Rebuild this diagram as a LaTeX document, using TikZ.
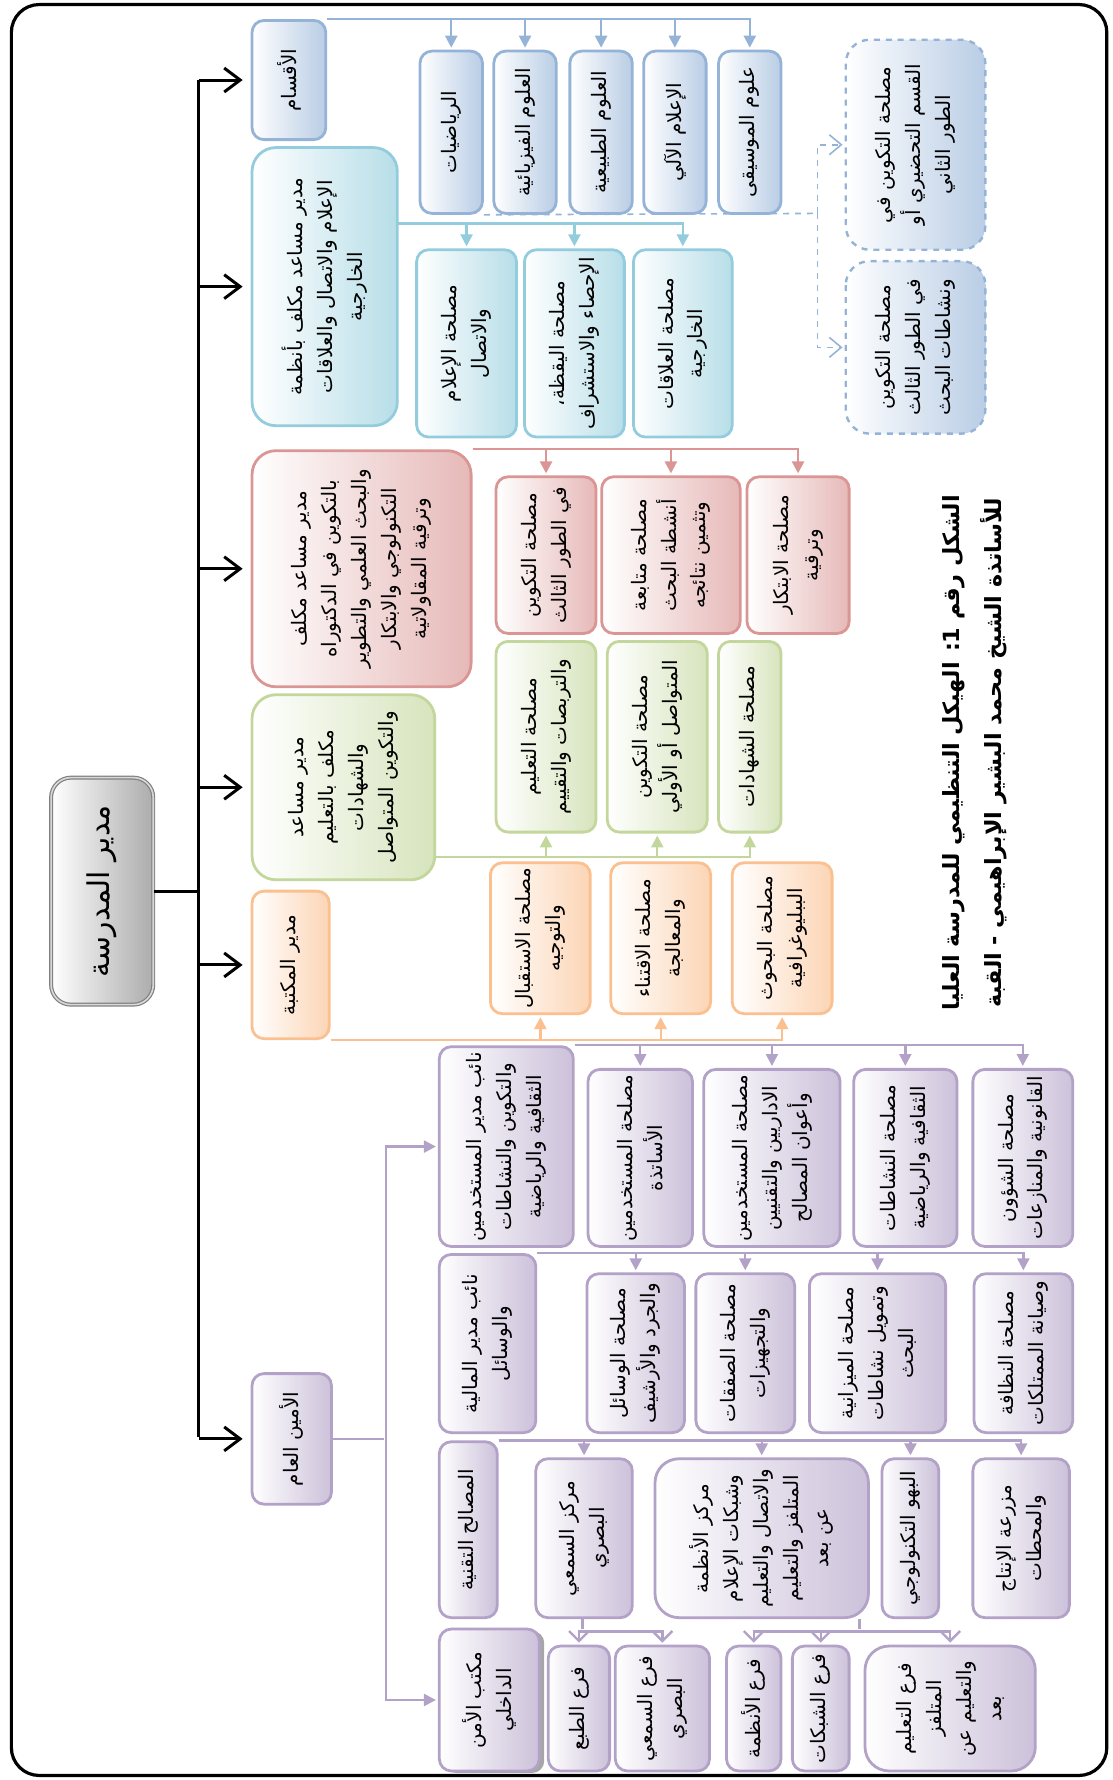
\documentclass[tikz,border=0pt]{standalone}
\usepackage{fontspec}
\newfontfamily\arabicfont[Script=Arabic]{DejaVu Sans}
\TeXXeTstate=1
\usepackage{tikz}
\usetikzlibrary{arrows.meta,shadows}

\definecolor{blueB}{HTML}{95B3D7}   \definecolor{blueF}{HTML}{B9CDE5}
\definecolor{aquaB}{HTML}{93CDDD}   \definecolor{aquaF}{HTML}{B7DEE8}
\definecolor{redB}{HTML}{D99694}    \definecolor{redF}{HTML}{E6B9B8}
\definecolor{greenB}{HTML}{C3D69B}  \definecolor{greenF}{HTML}{D7E4BD}
\definecolor{orangeB}{HTML}{FAC090} \definecolor{orangeF}{HTML}{FCD5B5}
\definecolor{purpleB}{HTML}{B3A2C7} \definecolor{purpleF}{HTML}{CCC1DA}
\newcommand\rl[1]{\beginR #1\endR}

\begin{document}
\begin{tikzpicture}[x=0.02cm,y=-0.02cm,>={Triangle[length=6pt,width=6pt]},shorten >=1pt,
  wh/.style 2 args={minimum height=#1*0.02cm,minimum width=#2*0.02cm},
  box/.style={rotate=90,rounded corners=6pt,align=center,inner sep=2pt,line width=1.4pt,
    font=\arabicfont\fontsize{10}{15}\selectfont},
  big box/.style={box,rounded corners=12pt},
  root node/.style={box,rounded corners=10pt,draw=gray,double=gray!30,double distance=0.8pt,
    line width=0.6pt,left color=white,right color=gray!65,font=\arabicfont\fontsize{15}{18}\selectfont},
  blue node/.style={draw=blueB,left color=white,right color=blueF},
  aqua node/.style={draw=aquaB,left color=white,right color=aquaF},
  red node/.style={draw=redB,left color=white,right color=redF},
  green node/.style={draw=greenB,left color=white,right color=greenF},
  orange node/.style={draw=orangeB,left color=white,right color=orangeF},
  purple node/.style={draw=purpleB,left color=white,right color=purpleF},
  dashed node/.style={draw=blueB,dashed,line width=1.2pt,left color=white,right color=blueF},
  blue line/.style={draw=blueB,line width=1.2pt,->},
  aqua line/.style={draw=aquaB,line width=1.2pt,->},
  red line/.style={draw=redB,line width=1.2pt,->},
  green line/.style={draw=greenB,line width=1.2pt,->},
  orange line/.style={draw=orangeB,line width=1.2pt,->},
  purple line/.style={draw=purpleB,line width=1.2pt,->},
  purple open/.style={draw=purpleB,line width=1.2pt,-{Straight Barb[length=5pt,width=10pt]}},
  dashed link/.style={draw=blueB,dashed,line width=0.8pt,-{Straight Barb[length=6pt,width=10pt]}},
  top line/.style={line width=1.5pt,-{Straight Barb[length=8pt,width=12pt]},shorten >=4pt},
  hv path/.style={to path={-| (\tikztotarget)}},
  vh path/.style={to path={|- (\tikztotarget)}}]

\useasboundingbox (0,0) rectangle (980,1568);
\draw[line width=1.6pt,rounded corners=14pt] (10,4) rectangle (975,1564);

% school director and first level
\node[root node,wh={90}{200}] (root) at (90,785) {\rl{مدير المدرسة}};
\node[box,blue node,wh={65}{105}] (aqsam) at (254.5,70.5) {\rl{الأقسام}};
\node[big box,aqua node,wh={128}{245}] (cyandir) at (286,252.5)
  {\rl{مدير مساعد مكلف بأنظمة}\\\rl{الإعلام والاتصال والعلاقات}\\\rl{الخارجية}};
\node[big box,red node,wh={193}{208}] (reddir) at (318.5,501)
  {\rl{مدير مساعد مكلف}\\\rl{بالتكوين في الدكتوراه}\\\rl{والبحث العلمي والتطوير}\\\rl{التكنولوجي والابتكار}\\\rl{وترقية المقاولاتية}};
\node[big box,green node,wh={161}{163}] (greendir) at (302.5,693.5)
  {\rl{مدير مساعد}\\\rl{مكلف بالتعليم}\\\rl{والشهادات}\\\rl{والتكوين المتواصل}};
\node[box,orange node,wh={68}{130}] (libdir) at (256,850) {\rl{مدير المكتبة}};
\node[box,purple node,wh={70}{115}] (sg) at (257,1267.5) {\rl{الأمين العام}};

\coordinate (bus) at (175,785);
\draw[line width=1.5pt] (root) -- (bus);
\draw[line width=1.5pt] (bus |- aqsam) -- (bus |- sg);
\path (bus |- aqsam) edge [top line] (aqsam);
\path (bus |- cyandir) edge [top line] (cyandir);
\path (bus |- reddir) edge [top line] (reddir);
\path (bus |- greendir) edge [top line] (greendir);
\path (bus |- libdir) edge [top line] (libdir);
\path (bus |- sg) edge [top line] (sg);

% departments
\node[box,blue node,wh={55}{143}] (math) at (397.5,116.5) {\rl{الرياضيات}};
\node[box,blue node,wh={55}{143}] (phys) at (462.5,116.5) {\rl{العلوم الفيزيائية}};
\node[box,blue node,wh={55}{143}] (nat) at (529.5,116.5) {\rl{العلوم الطبيعية}};
\node[box,blue node,wh={55}{143}] (info) at (594.5,116.5) {\rl{الإعلام الآلي}};
\node[box,blue node,wh={55}{143}] (music) at (660.5,116.5) {\rl{علوم الموسيقى}};
\path (aqsam.south east) edge [blue line,hv path] (math) edge [blue line,hv path] (phys)
  edge [blue line,hv path] (nat) edge [blue line,hv path] (info) edge [blue line,hv path] (music);

\node[big box,dashed node,wh={123}{185}] (t1) at (806.5,127.5)
  {\rl{مصلحة التكوين في}\\\rl{القسم التحضيري أو}\\\rl{الطور الثاني}};
\node[big box,dashed node,wh={123}{152}] (t2) at (806.5,306)
  {\rl{مصلحة التكوين}\\\rl{في الطور الثالث}\\\rl{ونشاطات البحث}};
\coordinate (dsplit) at (720,188);
\draw[dashed link,-] (math.south west) -- (dsplit);
\path (dsplit) edge [dashed link,vh path] (t1) edge [dashed link,vh path] (t2);

% information and external relations
\node[box,aqua node,wh={88}{165}] (media) at (411,302.5) {\rl{مصلحة الإعلام}\\\rl{والاتصال}};
\node[box,aqua node,wh={88}{165}] (watch) at (506,302.5) {\rl{مصلحة اليقظة،}\\\rl{الإحصاء والاستشراف}};
\node[box,aqua node,wh={87}{165}] (rel) at (601.5,302.5) {\rl{مصلحة العلاقات}\\\rl{الخارجية}};
\coordinate (aquabus) at (350,197);
\path (aquabus) edge [aqua line,hv path] (media) edge [aqua line,hv path] (watch)
  edge [aqua line,hv path] (rel);

% doctorate and research
\node[box,red node,wh={88}{138}] (phd) at (481,489) {\rl{مصلحة التكوين}\\\rl{في الطور الثالث}};
\node[box,red node,wh={122}{138}] (research) at (591,489) {\rl{مصلحة متابعة}\\\rl{أنشطة البحث}\\\rl{وتثمين نتائجه}};
\node[box,red node,wh={90}{138}] (innov) at (703,489) {\rl{مصلحة الابتكار}\\\rl{وترقية}};
\path (reddir.south east) edge [red line,hv path] (phd) edge [red line,hv path] (research)
  edge [red line,hv path] (innov);

% teaching
\node[box,green node,wh={88}{168}] (teach) at (481,649) {\rl{مصلحة التعليم}\\\rl{والتربصات والتقييم}};
\node[box,green node,wh={88}{168}] (cont) at (579,649) {\rl{مصلحة التكوين}\\\rl{المتواصل أو الأولي}};
\node[box,green node,wh={55}{168}] (cert) at (660.5,649) {\rl{مصلحة الشهادات}};
\coordinate (greenbus) at (383,755);
\path (greenbus) edge [green line,hv path] (teach) edge [green line,hv path] (cont)
  edge [green line,hv path] (cert);

% library
\node[box,orange node,wh={88}{133}] (recep) at (476,826.5) {\rl{مصلحة الاستقبال}\\\rl{والتوجيه}};
\node[box,orange node,wh={88}{133}] (acq) at (582,826.5) {\rl{مصلحة الاقتناء}\\\rl{والمعالجة}};
\node[box,orange node,wh={88}{133}] (biblio) at (689,826.5) {\rl{مصلحة البحوث}\\\rl{الببليوغرافية}};
\path (libdir.south west) edge [orange line,hv path] (recep) edge [orange line,hv path] (acq)
  edge [orange line,hv path] (biblio);

% secretary general
\node[box,purple node,wh={118}{176}] (vp1) at (446,1010)
  {\rl{نائب مدير المستخدمين}\\\rl{والتكوين والنشاطات}\\\rl{الثقافية والرياضية}};
\node[box,purple node,wh={85}{157}] (vp2) at (429.5,1183.5) {\rl{نائب مدير المالية}\\\rl{والوسائل}};
\node[box,purple node,wh={51}{155}] (tech) at (412.5,1347.5) {\rl{المصالح التقنية}};
\node[box,purple node,wh={88}{125},drop shadow={shadow xshift=2.5pt,shadow yshift=-1pt,fill=gray!70,opacity=1}]
  (sec) at (431,1497.5) {\rl{مكتب الأمن}\\\rl{الداخلي}};
\coordinate (pbus) at (340,1267.5);
\draw[purple line,-] (sg) -- (pbus);
\path (pbus) edge [purple line,vh path] (vp1) edge [purple line,vh path] (sec);

\node[box,purple node,wh={92}{156}] (staff1) at (564,1020) {\rl{مصلحة المستخدمين}\\\rl{الأساتذة}};
\node[box,purple node,wh={120}{156}] (staff2) at (680,1020)
  {\rl{مصلحة المستخدمين}\\\rl{الاداريين والتقنيين}\\\rl{وأعوان المصالح}};
\node[box,purple node,wh={91}{156}] (cult) at (797.5,1020) {\rl{مصلحة النشاطات}\\\rl{الثقافية والرياضية}};
\node[box,purple node,wh={88}{156}] (legal) at (901,1020) {\rl{مصلحة الشؤون}\\\rl{القانونية والمنازعات}};
\path (vp1.south east) edge [purple line,hv path] (staff1) edge [purple line,hv path] (staff2)
  edge [purple line,hv path] (cult) edge [purple line,hv path] (legal);

\node[box,purple node,wh={86}{140}] (means) at (560,1192) {\rl{مصلحة الوسائل}\\\rl{والجرد والأرشيف}};
\node[box,purple node,wh={87}{140}] (deals) at (656.5,1192) {\rl{مصلحة الصفقات}\\\rl{والتجهيزات}};
\node[box,purple node,wh={120}{140}] (budget) at (773,1192)
  {\rl{مصلحة الميزانية}\\\rl{وتمويل نشاطات}\\\rl{البحث}};
\node[box,purple node,wh={87}{140}] (clean) at (901.5,1192) {\rl{مصلحة النظافة}\\\rl{وصيانة الممتلكات}};
\path (vp2.south east) edge [purple line,hv path] (means) edge [purple line,hv path] (deals)
  edge [purple line,hv path] (budget) edge [purple line,hv path] (clean);

\node[box,purple node,wh={85}{140}] (av) at (514.5,1355) {\rl{مركز السمعي}\\\rl{البصري}};
\node[big box,purple node,wh={188}{140}] (sys) at (671,1355)
  {\rl{مركز الأنظمة}\\\rl{وشبكات الإعلام}\\\rl{والاتصال والتعليم}\\\rl{المتلفز والتعليم}\\\rl{عن بعد}};
\node[box,purple node,wh={50}{140}] (hall) at (802,1355) {\rl{البهو التكنولوجي}};
\node[box,purple node,wh={85}{140}] (farm) at (899.5,1355) {\rl{مزرعة الإنتاج}\\\rl{والمحطات}};
\path (tech.south east) edge [purple line,hv path] (av) edge [purple line,hv path] (sys)
  edge [purple line,hv path] (hall) edge [purple line,hv path] (farm);

\node[box,purple node,wh={54}{110}] (print) at (510,1505) {\rl{فرع الطبع}};
\node[box,purple node,wh={83}{110}] (avb) at (583.5,1505) {\rl{فرع السمعي}\\\rl{البصري}};
\node[box,purple node,wh={48}{110}] (sysb) at (664,1505) {\rl{فرع الأنظمة}};
\node[box,purple node,wh={50}{110}] (net) at (723,1505) {\rl{فرع الشبكات}};
\node[big box,purple node,wh={150}{110}] (tele) at (837,1505)
  {\rl{فرع التعليم}\\\rl{المتلفز}\\\rl{والتعليم عن}\\\rl{بعد}};
\coordinate (avj) at (513,1437);
\coordinate (sysj) at (757,1437);
\draw[purple line,-] (av.west -| avj) -- (avj);
\draw[purple line,-] (sys.west -| sysj) -- (sysj);
\path (avj) edge [purple open,hv path] (print) edge [purple open,hv path] (avb);
\path (sysj) edge [purple open,hv path] (sysb) edge [purple open,hv path] (net)
  edge [purple open,hv path] (tele);

% caption
\node[rotate=90,align=center,font=\arabicfont\bfseries\fontsize{11.2}{21}\selectfont] (caption) at (859,663)
  {\rl{الشكل رقم 1: الهيكل التنظيمي للمدرسة العليا}\\\rl{للأساتذة الشيخ محمد البشير الإبراهيمي - القبة}};

\end{tikzpicture}
\end{document}
